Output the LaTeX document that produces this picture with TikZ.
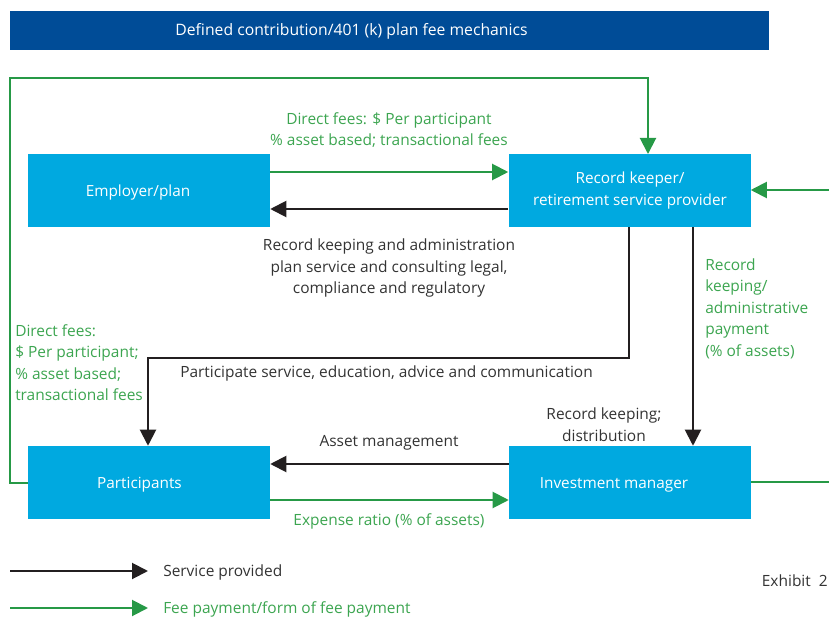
\documentclass[tikz,border=0pt]{standalone}
\usepackage{fontspec}
\setmainfont{Open Sans}
\usetikzlibrary{arrows.meta}
\definecolor{boxblue}{RGB}{0,169,224}
\definecolor{titleblue}{RGB}{0,76,151}
\definecolor{feegreen}{RGB}{38,153,70}
\definecolor{feetext}{RGB}{60,165,80}
\definecolor{svcblack}{RGB}{35,31,32}
\definecolor{svctext}{RGB}{51,51,51}
\begin{document}
\begin{tikzpicture}[x=0.75pt,y=-0.75pt,
  box/.style={fill=boxblue, minimum width=181.5pt, minimum height=54.75pt, inner sep=0pt},
  boxtext/.style={text=white, font=\fontsize{11.5}{16.5}\selectfont, align=center, inner sep=0pt, yshift=-1.2pt},
  tip/.style={-{Triangle[length=12pt,width=12pt]}},
  svc/.style={draw=svcblack, line width=1.5pt, tip},
  fee/.style={draw=feegreen, line width=1.5pt, tip},
  feeline/.style={draw=feegreen, line width=1.5pt},
  svclbl/.style={text=svctext, font=\fontsize{11.6}{16.1}\selectfont, align=center, inner sep=0pt, yshift=-1.2pt},
  feelbl/.style={text=feetext, font=\fontsize{11.6}{16.1}\selectfont, align=center, inner sep=0pt, yshift=-1.2pt}
]
\useasboundingbox (0,0) rectangle (829,617);
% title
\node (title) [fill=titleblue, minimum width=569.25pt, minimum height=29.25pt, inner sep=0pt] at (389.5,30.5) {};
\node (titletext) [text=white, font=\fontsize{11.8}{14}\selectfont, inner sep=0pt] at (351.5,31) {Defined contribution/401 (k) plan fee mechanics};
% boxes
\node (emp) [box] at (149,190.5) {};
\node (emptext) [boxtext] at (138,191) {Employer/plan};
\node (rk) [box] at (629.5,190.5) {};
\node (rktext) [boxtext] at (630,189) {Record keeper/\\retirement service provider};
\node (par) [box] at (149,482.5) {};
\node (partext) [boxtext] at (139.5,483) {Participants};
\node (im) [box] at (630,482.5) {};
\node (imtext) [boxtext] at (614,483) {Investment manager};
% coordinates
\coordinate (loopL) at (10,483);
\coordinate (loopT) at (10,78);
\coordinate (rkTop) at (648,154);
\coordinate (rightIn) at (829,190);
\coordinate (rightOut) at (829,482);
\coordinate (svcTurn) at (629,358);
\coordinate (parTurn) at (148,358);
% connectors
\draw[fee] (emp.east |- 0,172) -- (rk.west |- 0,172);
\draw[svc] (rk.west |- 0,209) -- (emp.east |- 0,209);
\draw[fee] (par.west |- loopL) -- (loopL) -- (loopT) -- (rkTop |- loopT) -- (rkTop);
\draw[fee] (rightIn) -- (rk.east |- rightIn);
\draw[feeline] (im.east |- rightOut) -- (rightOut);
\draw[svc] (rk.south -| svcTurn) -- (svcTurn) -- (parTurn) -- (par.north -| parTurn);
\draw[svc] (rk.south -| 693,0) -- (im.north -| 693,0);
\draw[svc] (im.west |- 0,464) -- (par.east |- 0,464);
\draw[fee] (par.east |- 0,500) -- (im.west |- 0,500);
% labels
\node (l1) [feelbl] at (389,128.5) {Direct fees: \$ Per participant\\\% asset based; transactional fees};
\node (l2) [svclbl] at (389,266.5) {Record keeping and administration\\plan service and consulting legal,\\compliance and regulatory};
\node (l3) [feelbl, anchor=west, align=left] at (15,361) {Direct fees:\\\$ Per participant;\\\% asset based;\\transactional fees};
\node (l4) [svclbl, anchor=west] at (180,372) {Participate service, education, advice and communication};
\node (l5) [feelbl, anchor=west, align=left] at (705,307) {Record\\keeping/\\administrative\\payment\\(\% of assets)};
\node (l6) [svclbl] at (604,423) {Record keeping;\\distribution};
\node (l7) [svclbl] at (389,441) {Asset management};
\node (l8) [feelbl] at (389,520) {Expense ratio (\% of assets)};
% legend
\coordinate (lg1a) at (10,571);
\coordinate (lg1b) at (148,571);
\coordinate (lg2a) at (10,608);
\coordinate (lg2b) at (148,608);
\draw[svc] (lg1a) -- (lg1b);
\draw[fee] (lg2a) -- (lg2b);
\node (lt1) [svclbl, anchor=west] at (163,571) {Service provided};
\node (lt2) [feelbl, anchor=west] at (163,608) {Fee payment/form of fee payment};
\node (exh) [svclbl, anchor=east] at (828,579) {Exhibit\ \ 2};
\end{tikzpicture}
\end{document}
